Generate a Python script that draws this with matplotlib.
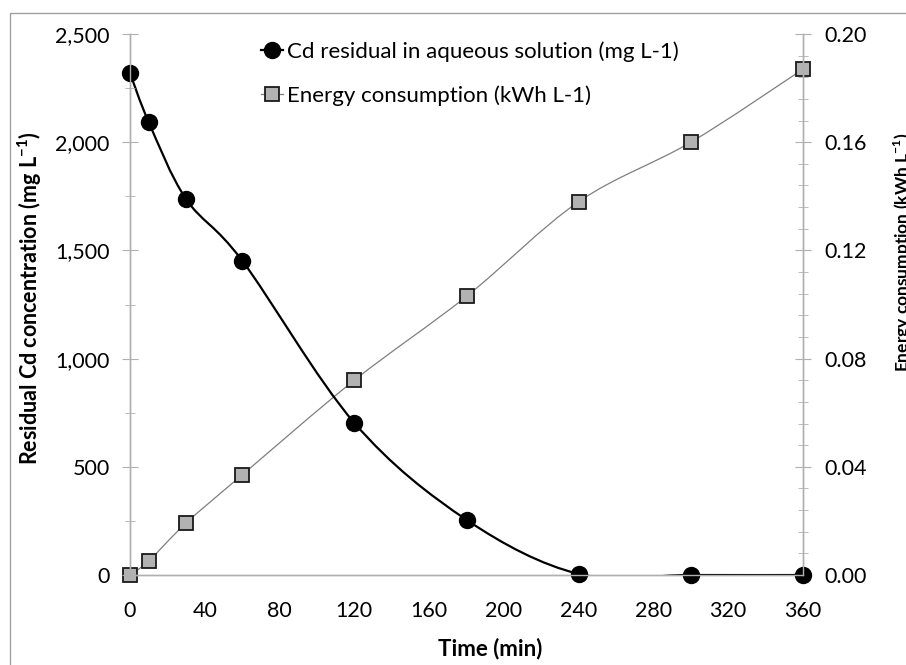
import matplotlib
matplotlib.use('Agg')
import matplotlib.pyplot as plt
from matplotlib.path import Path
from matplotlib.patches import PathPatch, Rectangle
from matplotlib.lines import Line2D
from matplotlib.ticker import MultipleLocator, FuncFormatter

plt.rcParams['font.family'] = ['Lato', 'DejaVu Sans']
plt.rcParams['mathtext.fontset'] = 'custom'
plt.rcParams['mathtext.rm'] = 'Lato'

# data
time_min = [0, 10, 30, 60, 120, 180, 240, 300, 360]
cd_residual = [2320, 2093, 1737, 1453, 703, 255, 5, 0, 0]          # mg L-1
energy = [0.0, 0.0052, 0.0192, 0.037, 0.072, 0.103, 0.138, 0.160, 0.187]  # kWh L-1

cd_label = 'Cd residual in aqueous solution (mg L-1)'
en_label = 'Energy consumption (kWh L-1)'
x_ticks = list(range(0, 361, 40))

axis_grey = '#b0b0b0'


def smooth_path(xs, ys):
    # Excel-style smoothed line: cubic Bezier through the points (Catmull-Rom)
    pts = list(zip(xs, ys))
    verts = [pts[0]]
    codes = [Path.MOVETO]
    n = len(pts)
    for i in range(n - 1):
        p0 = pts[i - 1] if i > 0 else pts[i]
        p1 = pts[i]
        p2 = pts[i + 1]
        p3 = pts[i + 2] if i + 2 < n else pts[i + 1]
        c1 = (p1[0] + (p2[0] - p0[0]) / 6, p1[1] + (p2[1] - p0[1]) / 6)
        c2 = (p2[0] - (p3[0] - p1[0]) / 6, p2[1] - (p3[1] - p1[1]) / 6)
        verts += [c1, c2, p2]
        codes += [Path.CURVE4] * 3
    return Path(verts, codes)


fig = plt.figure(figsize=(9.06, 6.65), dpi=100)
ax = fig.add_axes([130 / 906, 90 / 665, 673 / 906, 541 / 665])
ax2 = ax.twinx()
ax.set_zorder(ax2.get_zorder() + 1)
ax.patch.set_visible(False)

# energy on right axis
ax2.add_patch(PathPatch(smooth_path(time_min, energy), fill=False,
                        edgecolor='#7f7f7f', lw=0.9))
ax2.plot(time_min, energy, ls='none', marker='s', ms=9.5,
         mfc='#b2b2b2', mec='#1a1a1a', mew=1.3, clip_on=False)

# Cd on left axis
ax.add_patch(PathPatch(smooth_path(time_min, cd_residual), fill=False,
                       edgecolor='black', lw=1.6))
ax.plot(time_min, cd_residual, ls='none', marker='o', ms=11.5,
        mfc='black', mec='black', clip_on=False)

ax.set_xlim(0, 360)
ax.set_ylim(0, 2500)
ax2.set_ylim(0, 0.20)
ax.set_xticks(x_ticks)
ax.yaxis.set_major_locator(MultipleLocator(500))
ax.yaxis.set_minor_locator(MultipleLocator(250))
ax.yaxis.set_major_formatter(FuncFormatter(lambda v, p: f'{v:,.0f}'))
ax2.yaxis.set_major_locator(MultipleLocator(0.04))
ax2.yaxis.set_minor_locator(MultipleLocator(0.008))
ax2.yaxis.set_major_formatter(FuncFormatter(lambda v, p: f'{v:.2f}'))

for a in (ax, ax2):
    for s in a.spines.values():
        s.set_color(axis_grey)
        s.set_linewidth(1.0)
    a.spines['top'].set_visible(False)

tick_fs = 15.5
ax.tick_params(axis='x', length=0, pad=19, labelsize=tick_fs)
ax.tick_params(axis='y', which='major', direction='inout', length=11,
               color=axis_grey, pad=9, labelsize=tick_fs)
ax.tick_params(axis='y', which='minor', direction='inout', length=7,
               color=axis_grey)
ax2.tick_params(axis='y', which='major', direction='inout', length=11,
                color=axis_grey, pad=10, labelsize=tick_fs)
ax2.tick_params(axis='y', which='minor', direction='inout', length=7,
                color=axis_grey)

fig.text(490 / 906, 1 - 649 / 665, 'Time (min)', ha='center', va='center',
         fontsize=16, fontweight='bold')
fig.text(30 / 906, 1 - 298 / 665,
         r'Residual Cd concentration (mg L$^{\mathregular{-1}}$)',
         rotation=90, ha='center', va='center', fontsize=15.5, fontweight='bold')
# right axis title, cut by the right edge as in the original
fig.text(903 / 906, 1 - 252 / 665,
         r'Energy consumption (kWh L$^{\mathregular{-1}}$)',
         rotation=90, ha='center', va='center', fontsize=12.5, fontweight='bold')

handles = [
    Line2D([], [], color='black', lw=1.6, marker='o', ms=11.5, mfc='black'),
    Line2D([], [], color='#7f7f7f', lw=0.9, marker='s', ms=9.5,
           mfc='#b2b2b2', mec='#1a1a1a', mew=1.3),
]
fig.legend(handles, [cd_label, en_label], loc='upper left',
           bbox_to_anchor=(250 / 906, 1 - 30 / 665), frameon=False,
           fontsize=16, handlelength=1.0, handletextpad=0.15,
           labelspacing=1.05, borderpad=0)

# outer chart border (cropped on right and bottom in the original)
fig.patches.append(Rectangle((10 / 906, -0.1), 1.2, 1 - 13 / 665 + 0.1,
                             transform=fig.transFigure, fill=False,
                             edgecolor='#a0a0a0', lw=1.0))

fig.savefig('out.png', dpi=100)
